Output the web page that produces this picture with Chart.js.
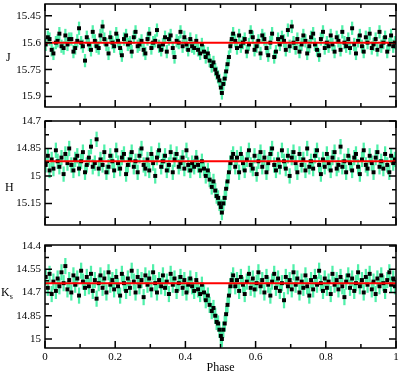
<!DOCTYPE html>
<html>
<head>
<meta charset="utf-8">
<script src="https://cdn.jsdelivr.net/npm/chart.js@4.4.0/dist/chart.umd.min.js"></script>
<style>
  body { margin: 0; background: #fff; width: 400px; height: 374px; position: relative; overflow: hidden; font-family: "Liberation Serif", serif; }
  .panel { position: absolute; left: 0; width: 400px; }
  .band { position: absolute; font-size: 12px; line-height: 14px; color: #000; }
  .band sub { font-size: 8px; }
</style>
</head>
<body>
<div class="panel" style="top:0;height:111px"><canvas id="chartJ"></canvas></div>
<div class="panel" style="top:112px;height:117px"><canvas id="chartH"></canvas></div>
<div class="panel" style="top:236px;height:138px"><canvas id="chartK"></canvas></div>
<div class="band" style="left:6px;top:50px">J</div>
<div class="band" style="left:5px;top:180px">H</div>
<div class="band" style="left:1px;top:285px">K<sub>s</sub></div>

<script>
// orbital phase of every observation (shared by the three bands)
const phase = [
  0.002, 0.008, 0.013, 0.019, 0.024, 0.031, 0.036, 0.041, 0.047, 0.053,
  0.058, 0.064, 0.069, 0.075, 0.081, 0.086, 0.092, 0.097, 0.103, 0.108,
  0.114, 0.119, 0.125, 0.131, 0.136, 0.142, 0.147, 0.153, 0.158, 0.164,
  0.169, 0.175, 0.181, 0.186, 0.192, 0.197, 0.203, 0.208, 0.214, 0.219,
  0.225, 0.231, 0.236, 0.242, 0.247, 0.253, 0.258, 0.264, 0.269, 0.275,
  0.281, 0.286, 0.292, 0.297, 0.303, 0.308, 0.314, 0.319, 0.325, 0.331,
  0.336, 0.342, 0.347, 0.353, 0.358, 0.364, 0.369, 0.375, 0.381, 0.386,
  0.392, 0.397, 0.403, 0.408, 0.414, 0.419, 0.425, 0.431, 0.436, 0.442,
  0.447, 0.453, 0.458, 0.464, 0.469, 0.475, 0.480, 0.485, 0.489, 0.493,
  0.497, 0.501, 0.504, 0.508, 0.512, 0.516, 0.520, 0.524, 0.528, 0.532,
  0.536, 0.542, 0.547, 0.553, 0.558, 0.564, 0.569, 0.575, 0.581, 0.586,
  0.592, 0.597, 0.603, 0.608, 0.614, 0.619, 0.625, 0.631, 0.636, 0.642,
  0.647, 0.653, 0.658, 0.664, 0.669, 0.675, 0.681, 0.686, 0.692, 0.697,
  0.703, 0.708, 0.714, 0.719, 0.725, 0.731, 0.736, 0.742, 0.747, 0.753,
  0.758, 0.764, 0.769, 0.775, 0.781, 0.786, 0.792, 0.797, 0.803, 0.808,
  0.814, 0.819, 0.825, 0.831, 0.836, 0.842, 0.847, 0.853, 0.858, 0.864,
  0.869, 0.875, 0.881, 0.886, 0.892, 0.897, 0.903, 0.908, 0.914, 0.919,
  0.925, 0.931, 0.936, 0.942, 0.947, 0.953, 0.958, 0.964, 0.969, 0.975,
  0.981, 0.986, 0.992, 0.997
];

const jMag = [
  15.61, 15.57, 15.58, 15.64, 15.66, 15.60, 15.59, 15.55, 15.62, 15.63,
  15.56, 15.61, 15.58, 15.58, 15.65, 15.63, 15.59, 15.52, 15.60, 15.62,
  15.70, 15.57, 15.61, 15.64, 15.54, 15.59, 15.62, 15.63, 15.56, 15.51,
  15.58, 15.61, 15.66, 15.57, 15.60, 15.62, 15.55, 15.59, 15.63, 15.67,
  15.58, 15.56, 15.61, 15.60, 15.65, 15.57, 15.54, 15.62, 15.61, 15.59,
  15.64, 15.66, 15.58, 15.55, 15.63, 15.60, 15.59, 15.53, 15.62, 15.64,
  15.61, 15.57, 15.65, 15.58, 15.56, 15.63, 15.68, 15.59, 15.60, 15.54,
  15.62, 15.57, 15.61, 15.64, 15.58, 15.62, 15.63, 15.59, 15.64, 15.66,
  15.61, 15.65, 15.68, 15.66, 15.70, 15.73, 15.71, 15.75, 15.77, 15.79,
  15.81, 15.85, 15.88, 15.83, 15.80, 15.76, 15.72, 15.68, 15.62, 15.58,
  15.55, 15.59, 15.63, 15.56, 15.62, 15.60, 15.58, 15.65, 15.61, 15.54,
  15.57, 15.64, 15.62, 15.59, 15.66, 15.56, 15.58, 15.63, 15.67, 15.60,
  15.55, 15.68, 15.65, 15.58, 15.61, 15.57, 15.59, 15.64, 15.53, 15.62,
  15.51, 15.60, 15.63, 15.58, 15.65, 15.61, 15.56, 15.59, 15.66, 15.62,
  15.57, 15.55, 15.61, 15.64, 15.67, 15.58, 15.54, 15.63, 15.60, 15.62,
  15.56, 15.61, 15.65, 15.57, 15.59, 15.64, 15.54, 15.60, 15.62, 15.58,
  15.63, 15.52, 15.61, 15.66, 15.59, 15.56, 15.62, 15.65, 15.57, 15.60,
  15.55, 15.63, 15.61, 15.58, 15.64, 15.54, 15.62, 15.60, 15.57, 15.65,
  15.61, 15.56, 15.62, 15.60
];

const hMag = [
  14.94, 14.89, 14.97, 14.91, 14.96, 14.86, 14.92, 14.95, 14.90, 14.99,
  14.88, 14.93, 14.85, 14.94, 14.97, 14.91, 14.89, 14.96, 14.92, 14.87,
  14.98, 14.94, 14.90, 14.84, 14.95, 14.93, 14.80, 14.96, 14.91, 14.94,
  14.87, 14.98, 14.95, 14.89, 14.92, 14.97, 14.86, 14.93, 14.96, 14.90,
  14.88, 14.99, 14.94, 14.91, 14.87, 14.95, 14.92, 14.98, 14.89, 14.85,
  14.94, 14.96, 14.91, 14.97, 14.88, 14.93, 15.00, 14.90, 14.86, 14.95,
  14.92, 14.89, 14.97, 14.94, 14.87, 14.98, 14.91, 14.88, 14.95, 14.93,
  14.90, 14.96, 14.86, 14.94, 14.97, 14.93, 14.95, 14.90, 14.94, 14.97,
  14.92, 14.96, 15.00, 14.97, 15.02, 15.06, 15.03, 15.08, 15.11, 15.12,
  15.15, 15.17, 15.20, 15.15, 15.12, 15.07, 15.03, 14.98, 14.93, 14.90,
  14.88, 14.95, 14.90, 14.98, 14.88, 14.93, 14.97, 14.91, 14.86, 14.94,
  14.96, 14.89, 14.99, 14.92, 14.87, 14.95, 14.90, 14.98, 14.93, 14.88,
  14.85, 14.94, 14.97, 14.91, 14.95, 14.86, 14.92, 14.96, 14.89, 15.00,
  14.90, 14.87, 14.93, 14.98, 14.88, 14.94, 14.91, 14.97, 14.85, 14.95,
  14.92, 14.96, 14.89, 14.86, 14.94, 14.99, 14.91, 14.95, 14.88, 14.93,
  14.97, 14.90, 14.87, 14.96, 14.94, 14.84, 14.95, 14.92, 14.98, 14.89,
  14.93, 14.97, 14.90, 14.88, 14.95, 14.99, 14.91, 14.86, 14.94, 14.96,
  14.89, 14.93, 14.98, 14.90, 14.87, 14.95, 14.92, 14.96, 14.88, 14.94,
  14.98, 14.89, 14.93, 14.91
];

const kMag = [
  14.60, 14.67, 14.58, 14.71, 14.63, 14.69, 14.61, 14.66, 14.57, 14.64,
  14.53, 14.68, 14.62, 14.70, 14.59, 14.65, 14.61, 14.72, 14.56, 14.63,
  14.67, 14.60, 14.66, 14.58, 14.69, 14.62, 14.74, 14.64, 14.59, 14.67,
  14.61, 14.70, 14.57, 14.65, 14.62, 14.68, 14.60, 14.66, 14.72, 14.58,
  14.64, 14.69, 14.61, 14.67, 14.56, 14.63, 14.70, 14.60, 14.66, 14.62,
  14.73, 14.59, 14.65, 14.61, 14.68, 14.57, 14.64, 14.70, 14.62, 14.66,
  14.59, 14.67, 14.63, 14.71, 14.58, 14.65, 14.61, 14.69, 14.64, 14.60,
  14.67, 14.62, 14.70, 14.65, 14.61, 14.66, 14.69, 14.62, 14.68, 14.71,
  14.65, 14.70, 14.75, 14.72, 14.78, 14.82, 14.80, 14.85, 14.89, 14.90,
  14.94, 14.98, 15.00, 14.94, 14.90, 14.84, 14.78, 14.72, 14.66, 14.62,
  14.59, 14.66, 14.62, 14.69, 14.60, 14.65, 14.71, 14.63, 14.58, 14.67,
  14.61, 14.68, 14.64, 14.57, 14.66, 14.62, 14.70, 14.60, 14.65, 14.72,
  14.63, 14.58, 14.67, 14.61, 14.69, 14.64, 14.75, 14.60, 14.66, 14.62,
  14.68, 14.57, 14.65, 14.61, 14.70, 14.63, 14.67, 14.59, 14.66, 14.72,
  14.62, 14.68, 14.60, 14.65, 14.56, 14.64, 14.69, 14.61, 14.67, 14.63,
  14.71, 14.58, 14.65, 14.62, 14.68, 14.60, 14.66, 14.73, 14.63, 14.59,
  14.67, 14.61, 14.69, 14.64, 14.57, 14.66, 14.62, 14.70, 14.60, 14.65,
  14.58, 14.68, 14.63, 14.71, 14.61, 14.66, 14.59, 14.64, 14.69, 14.62,
  14.57, 14.65, 14.61, 14.66
];

// photometric errors (J, H, Ks) and mean out-of-eclipse level
const magErr = [0.035, 0.04, 0.05];
const meanMag = [15.6, 14.92, 14.64];

// tick labels
const xTicks = [0, 0.2, 0.4, 0.6, 0.8, 1];
const jTicks = [15.45, 15.6, 15.75, 15.9];
const hTicks = [14.7, 14.85, 15, 15.15];
const kTicks = [14.4, 14.55, 14.7, 14.85, 15];

const font = { family: '"Liberation Serif", "Times New Roman", serif', size: 11 };

// xmgrace style frame: box with inward major/minor ticks on all sides
const frameTicks = {
  id: 'frameTicks',
  afterDatasetsDraw(chart, args, opts) {
    const { ctx, chartArea: a, scales: { x, y } } = chart;
    const withMinor = (ticks, lo, hi) => {
      const out = [];
      const step = ticks[1] - ticks[0];
      for (let i = 0; i < ticks.length; i++) {
        const mid = ticks[i] - step / 2;
        if (mid >= lo && mid <= hi) out.push(mid);
      }
      const last = ticks[ticks.length - 1] + step / 2;
      if (last >= lo && last <= hi) out.push(last);
      return out;
    };
    ctx.save();
    ctx.strokeStyle = '#000';
    ctx.lineWidth = 1.5;
    ctx.strokeRect(a.left, a.top, a.right - a.left, a.bottom - a.top);
    ctx.beginPath();
    const xt = (v, len) => {
      const px = x.getPixelForValue(v);
      ctx.moveTo(px, a.bottom); ctx.lineTo(px, a.bottom - len);
      ctx.moveTo(px, a.top); ctx.lineTo(px, a.top + len);
    };
    const yt = (v, len) => {
      const py = y.getPixelForValue(v);
      ctx.moveTo(a.left, py); ctx.lineTo(a.left + len, py);
      ctx.moveTo(a.right, py); ctx.lineTo(a.right - len, py);
    };
    xTicks.forEach(v => xt(v, 7));
    withMinor(xTicks, x.min, x.max).forEach(v => xt(v, 4));
    opts.yTicks.forEach(v => yt(v, 7));
    withMinor(opts.yTicks, y.min, y.max).forEach(v => yt(v, 4));
    ctx.stroke();
    ctx.restore();
  }
};

function makePanel(id, mags, err, mean, yMin, yMax, yTicks, showX, padTop) {
  return new Chart(document.getElementById(id), {
    type: 'scatter',
    data: {
      datasets: [
        {
          type: 'line',
          data: [{ x: 0, y: mean }, { x: 1, y: mean }],
          borderColor: '#ff0000',
          borderWidth: 2,
          pointRadius: 0,
          order: 0
        },
        {
          type: 'scatter',
          data: phase.map((p, i) => ({ x: p, y: mags[i] })),
          pointStyle: 'rect',
          pointRadius: 2.8,
          backgroundColor: '#000',
          borderWidth: 0,
          order: 1
        },
        {
          type: 'bar',
          data: phase.map((p, i) => ({ x: p, y: [mags[i] - err, mags[i] + err] })),
          backgroundColor: 'rgb(80, 240, 170)',
          borderWidth: 0,
          barThickness: 1.6,
          order: 2
        }
      ]
    },
    options: {
      responsive: true,
      maintainAspectRatio: false,
      animation: false,
      events: [],
      layout: { padding: { top: padTop, right: 3, bottom: showX ? 0 : 2, left: 0 } },
      plugins: {
        legend: { display: false },
        tooltip: { enabled: false },
        frameTicks: { yTicks: yTicks }
      },
      scales: {
        x: {
          type: 'linear',
          min: 0,
          max: 1,
          offset: false,
          display: showX,
          grid: { display: false, drawTicks: false },
          border: { display: false },
          afterBuildTicks: s => { s.ticks = xTicks.map(v => ({ value: v })); },
          afterFit: s => {
            if (showX) s.height = 26;
            s.paddingLeft = 0; s.paddingRight = 0;
          },
          ticks: { color: '#000', font: font, padding: 3, maxRotation: 0, callback: v => String(v) },
          title: { display: true, text: 'Phase', color: '#000', padding: 0, font: { family: font.family, size: 12, lineHeight: 1 } }
        },
        y: {
          type: 'linear',
          reverse: true,
          min: yMin,
          max: yMax,
          grid: { display: false, drawTicks: false },
          border: { display: false },
          afterBuildTicks: s => { s.ticks = yTicks.map(v => ({ value: v })); },
          afterFit: s => { s.width = 45; s.paddingTop = 0; s.paddingBottom = 0; },
          ticks: { color: '#000', font: font, padding: 4, callback: v => String(v) }
        }
      }
    },
    plugins: [frameTicks]
  });
}

makePanel('chartJ', jMag, magErr[0], meanMag[0], 15.385, 15.958, jTicks, false, 1);
makePanel('chartH', hMag, magErr[1], meanMag[1], 14.7, 15.268, hTicks, false, 9);
makePanel('chartK', kMag, magErr[2], meanMag[2], 14.394, 15.058, kTicks, true, 9);
</script>
</body>
</html>
